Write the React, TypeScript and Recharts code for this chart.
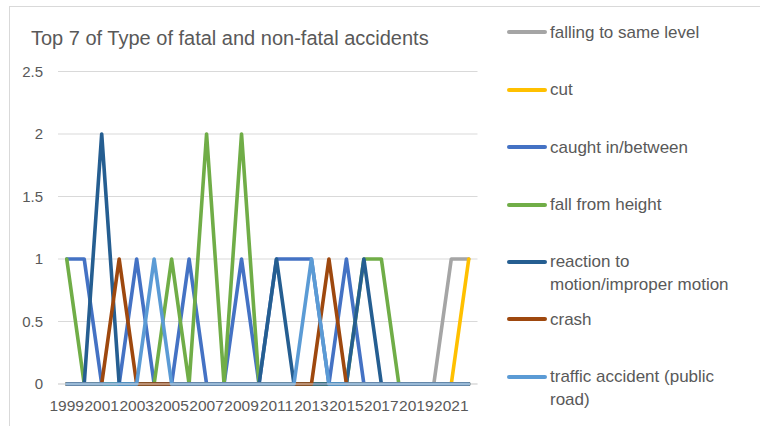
import React from 'react';
import { LineChart, Line, XAxis, YAxis, CartesianGrid } from 'recharts';

const years = ['1999','2000','2001','2002','2003','2004','2005','2006','2007','2008','2009','2010','2011','2012','2013','2014','2015','2016','2017','2018','2019','2020','2021','2022'];

const fallingSameLevel = [0,0,0,0,0,0,0,0,0,0,0,0,0,0,0,0,0,0,0,0,0,0,1,1];
const cut = [0,0,0,0,0,0,0,0,0,0,0,0,0,0,0,0,0,0,0,0,0,0,0,1];
const caughtInBetween = [1,1,0,0,1,0,0,1,0,0,1,0,1,1,1,0,1,0,0,0,0,0,0,0];
const fallFromHeight = [1,0,0,0,0,0,1,0,2,0,2,0,0,0,0,0,0,1,1,0,0,0,0,0];
const reactionToMotion = [0,0,2,0,0,0,0,0,0,0,0,0,1,0,0,0,0,1,0,0,0,0,0,0];
const crash = [0,0,0,1,0,0,0,0,0,0,0,0,0,0,0,1,0,0,0,0,0,0,0,0];
const trafficAccident = [0,0,0,0,0,1,0,0,0,0,0,0,0,0,1,0,0,0,0,0,0,0,0,0];

const yTicks = [0, 0.5, 1, 1.5, 2, 2.5];

const seriesNames = [
  'falling to same level',
  'cut',
  'caught in/between',
  'fall from height',
  'reaction to motion/improper motion',
  'crash',
  'traffic accident (public road)',
];
const seriesValues = [fallingSameLevel, cut, caughtInBetween, fallFromHeight, reactionToMotion, crash, trafficAccident];
const seriesColors = ['#A5A5A5', '#FFC000', '#4472C4', '#70AD47', '#255E91', '#9E480E', '#5B9BD5'];

const data = years.map((y, i) => {
  const row: Record<string, string | number> = { year: y };
  seriesNames.forEach((n, s) => {
    row[n] = seriesValues[s][i];
  });
  return row;
});

const FONT = '"Liberation Sans", Arial, sans-serif';
const TEXT = '#595959';

export default function App() {
  return (
    <div style={{ position: 'fixed', left: 0, top: 0, width: 760, height: 426, overflow: 'hidden', background: '#fff', fontFamily: FONT }}>
      <div style={{ position: 'absolute', left: 9, top: 6, width: 900, height: 600, border: '1px solid #D9D9D9', boxSizing: 'border-box' }} />
      <div style={{ position: 'absolute', left: 31, top: 27, fontSize: 20, lineHeight: '23px', color: TEXT, whiteSpace: 'nowrap' }}>
        Top 7 of Type of fatal and non-fatal accidents
      </div>
      <div style={{ position: 'absolute', left: 0, top: 0 }}>
        <LineChart width={760} height={426} data={data} margin={{ top: 71.5, right: 282.5, bottom: 0, left: 0 }}>
          <CartesianGrid vertical={false} stroke="#D9D9D9" strokeWidth={1} />
          <XAxis
            dataKey="year"
            interval={1}
            padding={{ left: 8.74, right: 8.74 }}
            height={42}
            tickLine={false}
            tickSize={0}
            tickMargin={16}
            axisLine={{ stroke: '#D9D9D9', strokeWidth: 1 }}
            tick={{ fill: TEXT, fontSize: 15.5, fontFamily: FONT }}
          />
          <YAxis
            domain={[0, 2.5]}
            ticks={yTicks}
            width={58}
            axisLine={false}
            tickLine={false}
            tickSize={0}
            tickMargin={15}
            tick={{ fill: TEXT, fontSize: 15, fontFamily: FONT }}
          />
          {seriesNames.map((n, s) => (
            <Line
              key={n}
              type="linear"
              dataKey={n}
              stroke={seriesColors[s]}
              strokeWidth={3.6}
              strokeLinejoin="round"
              strokeLinecap="round"
              dot={false}
              activeDot={false}
              isAnimationActive={false}
            />
          ))}
        </LineChart>
      </div>
      {seriesNames.map((n, s) => (
        <div key={n} style={{ position: 'absolute', left: 507, top: 32.3 + s * 57.4 - 11.5, display: 'flex', alignItems: 'flex-start' }}>
          <div style={{ width: 40, height: 4, background: seriesColors[s], borderRadius: 2, marginTop: 9.5 }} />
          <div style={{ marginLeft: 3, width: 200, fontSize: 17, lineHeight: '23px', color: TEXT }}>{n}</div>
        </div>
      ))}
    </div>
  );
}
